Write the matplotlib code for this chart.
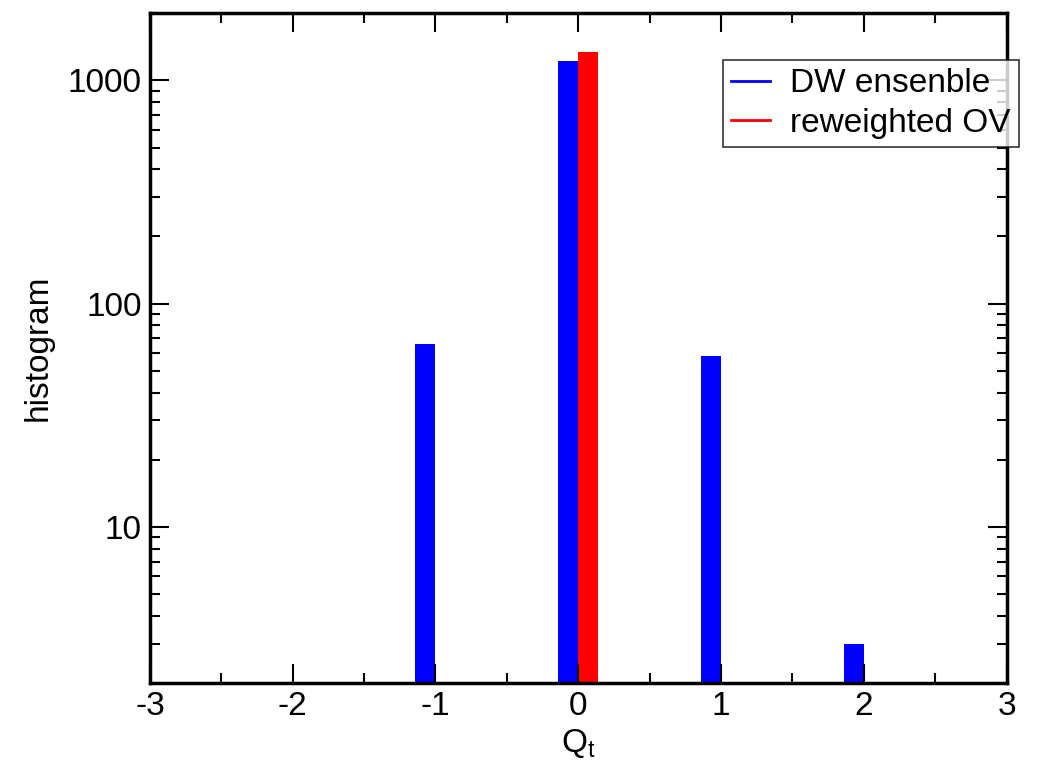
import numpy as np
import matplotlib.pyplot as plt
from matplotlib.ticker import MultipleLocator, FixedLocator, LogLocator, NullFormatter
from matplotlib.lines import Line2D

plt.rcParams['font.family'] = ['Liberation Sans', 'DejaVu Sans']
plt.rcParams['axes.unicode_minus'] = False

# Histogramas de carga topologica
q_dw = [-1, 0, 1, 2]
h_dw = [66, 1216, 58, 3]
q_ov = [0]
h_ov = [1343]

fig = plt.figure(figsize=(10.41, 7.73), dpi=100)
ax = fig.add_axes([0.144, 0.1164, 0.823, 0.8666])

ancho = 0.14
ax.bar(q_dw, h_dw, width=-ancho, align='edge', color='#0000ff', bottom=0.001)
ax.bar(q_ov, h_ov, width=ancho, align='edge', color='#ff0000', bottom=0.001)

ax.set_yscale('log')
ax.set_xlim(-3, 3)
ax.set_ylim(2, 2000)

ax.xaxis.set_major_locator(MultipleLocator(1))
ax.xaxis.set_minor_locator(MultipleLocator(0.5))
ax.yaxis.set_major_locator(FixedLocator([10, 100, 1000]))
ax.yaxis.set_minor_locator(LogLocator(base=10, subs=np.arange(2, 10)))
ax.yaxis.set_minor_formatter(NullFormatter())
ax.set_yticklabels(['10', '100', '1000'])

ax.tick_params(which='both', direction='in', top=True, right=True, width=1.5,
               labelsize=24, pad=6)
ax.tick_params(which='major', length=14)
ax.tick_params(which='minor', length=7)
for s in ax.spines.values():
    s.set_linewidth(2.5)

ax.set_xlabel('Q$_\\mathregular{t}$', fontsize=24, labelpad=3)
ax.set_ylabel('histogram', fontsize=24, labelpad=10)

handles = [Line2D([], [], color='#0000ff', lw=2),
           Line2D([], [], color='#ff0000', lw=2)]
leg = ax.legend(handles, ['DW ensenble', 'reweighted OV'], fontsize=24,
                loc='upper left', bbox_to_anchor=(0.669, 0.93),
                frameon=True, fancybox=False, handlelength=1.15,
                handletextpad=0.6, borderpad=0.25, labelspacing=0.25,
                borderaxespad=0)
leg.get_frame().set_edgecolor('black')
leg.get_frame().set_linewidth(1.2)

fig.savefig('out.png', dpi=100)
